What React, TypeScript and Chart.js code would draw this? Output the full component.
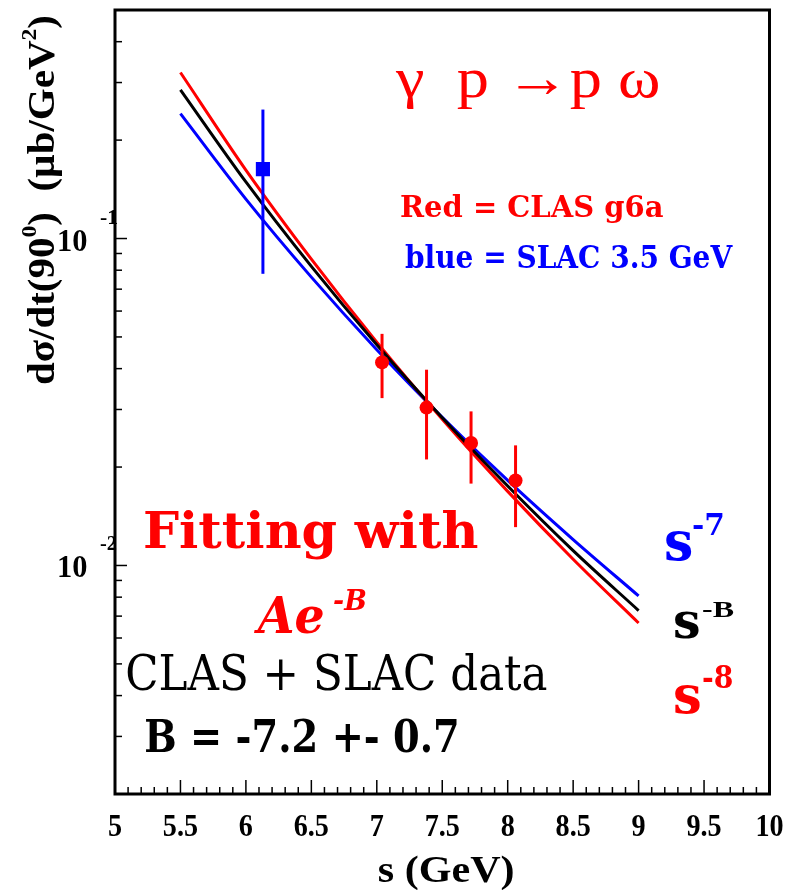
import { useEffect, useRef } from "react";
import { Chart, registerables } from "chart.js";

Chart.register(...registerables);

// Fit curves, sampled along s (GeV)
const fitS = [5.5, 6, 6.5, 7, 7.5, 8, 8.5, 9];
const fitMinus8 = [0.322, 0.162, 0.0865, 0.0482, 0.028, 0.01685, 0.01045, 0.00667];
const fitMinusB = [0.285, 0.149, 0.0822, 0.0473, 0.0283, 0.0175, 0.0111, 0.00728];
const fitMinus7 = [0.241, 0.132, 0.0762, 0.0457, 0.0284, 0.0182, 0.012, 0.00807];

// CLAS g6a measurements
const clasS = [7.04, 7.38, 7.72, 8.06];
const clasXsec = [0.0418, 0.0304, 0.0237, 0.0182];
const clasErr = [0.0093, 0.0093, 0.0059, 0.0051];

// SLAC 3.5 GeV measurement
const slacS = [6.13];
const slacXsec = [0.163];
const slacErr = [0.085];

// Axis ticks
const xTickValues = [5, 5.5, 6, 6.5, 7, 7.5, 8, 8.5, 9, 9.5, 10];
const xTickLabels = ["5", "5.5", "6", "6.5", "7", "7.5", "8", "8.5", "9", "9.5", "10"];
const yDecadeValues = [0.1, 0.01];
const yDecadeExponents = ["-1", "-2"];

const RED = "#ff0000";
const BLUE = "#0000ff";
const BLACK = "#000000";

const TIMES = "'Liberation Serif', 'Times New Roman', serif";
const SCHOOL = "'DejaVu Serif', serif";

type Label = {
  text: string;
  font: string;
  color: string;
  left: number;
  right: number;
  baseline: number;
};

const annotations: Label[] = [
  { text: "γ  p →p ω", font: `58px ${TIMES}`, color: RED, left: 395, right: 658, baseline: 97 },
  { text: "Red = CLAS g6a", font: `bold 30px ${SCHOOL}`, color: RED, left: 401, right: 663, baseline: 217 },
  { text: "blue = SLAC 3.5 GeV", font: `bold 31px ${SCHOOL}`, color: BLUE, left: 405, right: 733, baseline: 268 },
  { text: "Fitting with", font: `bold 50px ${SCHOOL}`, color: RED, left: 145, right: 478, baseline: 548 },
  { text: "Ae", font: `italic bold 50px ${SCHOOL}`, color: RED, left: 254, right: 323, baseline: 633 },
  { text: "-B", font: `italic bold 27px ${SCHOOL}`, color: RED, left: 334, right: 366, baseline: 610 },
  { text: "CLAS + SLAC data", font: `48px ${SCHOOL}`, color: BLACK, left: 127, right: 547, baseline: 690 },
  { text: "B = -7.2 +- 0.7", font: `bold 45px ${SCHOOL}`, color: BLACK, left: 146, right: 457, baseline: 752 },
  { text: "s", font: `bold 54px ${SCHOOL}`, color: BLUE, left: 666, right: 692, baseline: 560 },
  { text: "-7", font: `bold 30px ${SCHOOL}`, color: BLUE, left: 693, right: 723, baseline: 535 },
  { text: "s", font: `bold 51px ${SCHOOL}`, color: BLACK, left: 675, right: 699, baseline: 638 },
  { text: "-B", font: `bold 24px ${TIMES}`, color: BLACK, left: 702, right: 734, baseline: 617 },
  { text: "s", font: `bold 53px ${SCHOOL}`, color: RED, left: 675, right: 700, baseline: 713 },
  { text: "-8", font: `bold 31px ${SCHOOL}`, color: RED, left: 703, right: 732, baseline: 688 },
];

// Draw text so that its ink spans [left, right] horizontally.
function drawFitted(ctx: CanvasRenderingContext2D, l: Label) {
  ctx.save();
  ctx.font = l.font;
  ctx.textAlign = "left";
  ctx.textBaseline = "alphabetic";
  const m = ctx.measureText(l.text);
  const ink = m.actualBoundingBoxLeft + m.actualBoundingBoxRight;
  const sx = (l.right - l.left) / ink;
  ctx.translate(l.left, l.baseline);
  ctx.scale(sx, 1);
  ctx.fillStyle = l.color;
  ctx.fillText(l.text, m.actualBoundingBoxLeft, 0);
  ctx.restore();
}

type Seg = { text: string; size: number; rise: number };

const yTitleSegs: Seg[] = [
  { text: "dσ/dt(90", size: 38, rise: 0 },
  { text: "0", size: 22, rise: 18 },
  { text: ")  (µb/GeV", size: 38, rise: 0 },
  { text: "2", size: 22, rise: 18 },
  { text: ")", size: 38, rise: 0 },
];

function drawRotatedTitle(ctx: CanvasRenderingContext2D, segs: Seg[], baseX: number, startY: number, endY: number) {
  ctx.save();
  ctx.textAlign = "left";
  ctx.textBaseline = "alphabetic";
  ctx.fillStyle = BLACK;
  let total = 0;
  const widths = segs.map((s) => {
    ctx.font = `bold ${s.size}px ${TIMES}`;
    const w = ctx.measureText(s.text).width;
    total += w;
    return w;
  });
  const sx = (startY - endY) / total;
  ctx.translate(baseX, startY);
  ctx.rotate(-Math.PI / 2);
  ctx.scale(sx, 1);
  let cx = 0;
  segs.forEach((s, i) => {
    ctx.font = `bold ${s.size}px ${TIMES}`;
    ctx.fillText(s.text, cx, -s.rise);
    cx += widths[i];
  });
  ctx.restore();
}

const decorations = {
  id: "decorations",
  afterDatasetsDraw(chart: Chart) {
    const ctx = chart.ctx;
    const x = chart.scales.x;
    const y = chart.scales.y;
    const sets: [number[], number[], number[], string][] = [
      [clasS, clasXsec, clasErr, RED],
      [slacS, slacXsec, slacErr, BLUE],
    ];
    ctx.save();
    ctx.lineWidth = 3;
    for (const [ss, vs, es, color] of sets) {
      ctx.strokeStyle = color;
      ss.forEach((s, i) => {
        const px = x.getPixelForValue(s);
        ctx.beginPath();
        ctx.moveTo(px, y.getPixelForValue(vs[i] + es[i]));
        ctx.lineTo(px, y.getPixelForValue(vs[i] - es[i]));
        ctx.stroke();
      });
    }
    ctx.restore();
  },
  afterDraw(chart: Chart) {
    const ctx = chart.ctx;
    const x = chart.scales.x;
    const y = chart.scales.y;
    const { left, right, top, bottom } = chart.chartArea;

    ctx.save();
    // frame
    ctx.strokeStyle = BLACK;
    ctx.lineWidth = 3;
    ctx.strokeRect(left, top, right - left, bottom - top);

    // x ticks (inside, from the bottom axis)
    ctx.lineWidth = 1.5;
    for (let k = 50; k <= 100; k++) {
      const v = k / 10;
      const px = x.getPixelForValue(v);
      const len = k % 5 === 0 ? 14 : 7;
      ctx.beginPath();
      ctx.moveTo(px, bottom);
      ctx.lineTo(px, bottom - len);
      ctx.stroke();
    }

    // y ticks (inside, from the left axis)
    const yMin = y.min;
    const yMax = y.max;
    for (const d of [0.001, 0.01, 0.1]) {
      for (let k = 1; k <= 9; k++) {
        const v = k * d;
        if (v <= yMin * 1.0001 || v >= yMax * 0.9999) continue;
        const py = y.getPixelForValue(v);
        const len = k === 1 ? 12 : 7;
        ctx.beginPath();
        ctx.moveTo(left, py);
        ctx.lineTo(left + len, py);
        ctx.stroke();
      }
    }

    // x tick labels
    ctx.fillStyle = BLACK;
    ctx.textBaseline = "alphabetic";
    ctx.textAlign = "center";
    ctx.font = `bold 32px ${TIMES}`;
    xTickValues.forEach((v, i) => {
      const px = x.getPixelForValue(v);
      ctx.save();
      ctx.translate(px, 836);
      ctx.scale(0.88, 1);
      ctx.fillText(xTickLabels[i], 0, 0);
      ctx.restore();
    });

    // y decade labels: 10 with a raised exponent
    yDecadeValues.forEach((v, i) => {
      const py = y.getPixelForValue(v);
      drawFitted(ctx, { text: "10", font: `bold 31px ${TIMES}`, color: BLACK, left: 59, right: 87, baseline: py + 12 });
      drawFitted(ctx, { text: yDecadeExponents[i], font: `bold 20px ${TIMES}`, color: BLACK, left: 100, right: 117, baseline: py - 15 });
    });

    // axis titles
    drawFitted(ctx, { text: "s (GeV)", font: `bold 37px ${TIMES}`, color: BLACK, left: 379, right: 513, baseline: 882 });
    drawRotatedTitle(ctx, yTitleSegs, 54, 385, 15);

    // annotations
    annotations.forEach((l) => drawFitted(ctx, l));
    ctx.restore();
  },
};

export default function App() {
  const ref = useRef<HTMLCanvasElement>(null);

  useEffect(() => {
    const canvas = ref.current;
    if (!canvas) return;
    const toXY = (xs: number[], ys: number[]) => xs.map((s, i) => ({ x: s, y: ys[i] }));
    const chart = new Chart(canvas, {
      type: "line",
      data: {
        datasets: [
          {
            label: "CLAS g6a",
            data: toXY(clasS, clasXsec),
            showLine: false,
            pointStyle: "circle",
            pointRadius: 7,
            backgroundColor: RED,
            borderColor: RED,
            borderWidth: 0,
          },
          {
            label: "SLAC 3.5 GeV",
            data: toXY(slacS, slacXsec),
            showLine: false,
            pointStyle: "rect",
            pointRadius: 10,
            backgroundColor: BLUE,
            borderColor: BLUE,
            borderWidth: 0,
          },
          {
            label: "s^-B",
            data: toXY(fitS, fitMinusB),
            borderColor: BLACK,
            borderWidth: 3,
            pointRadius: 0,
            cubicInterpolationMode: "monotone",
            fill: false,
          },
          {
            label: "s^-8",
            data: toXY(fitS, fitMinus8),
            borderColor: RED,
            borderWidth: 3,
            pointRadius: 0,
            cubicInterpolationMode: "monotone",
            fill: false,
          },
          {
            label: "s^-7",
            data: toXY(fitS, fitMinus7),
            borderColor: BLUE,
            borderWidth: 3,
            pointRadius: 0,
            cubicInterpolationMode: "monotone",
            fill: false,
          },
        ],
      },
      options: {
        responsive: false,
        animation: false,
        devicePixelRatio: 1,
        layout: { padding: { left: 115, right: 28.5, top: 7, bottom: 96 } },
        plugins: { legend: { display: false }, tooltip: { enabled: false } },
        scales: {
          x: { type: "linear", min: 5, max: 10, display: false },
          y: { type: "logarithmic", min: 0.002, max: 0.5, display: false },
        },
      },
      plugins: [decorations],
    });
    return () => chart.destroy();
  }, []);

  return (
    <div style={{ position: "absolute", left: 0, top: 0, width: 798, height: 890, background: "#ffffff" }}>
      <canvas ref={ref} width={798} height={890} style={{ display: "block", width: 798, height: 890 }} />
    </div>
  );
}
